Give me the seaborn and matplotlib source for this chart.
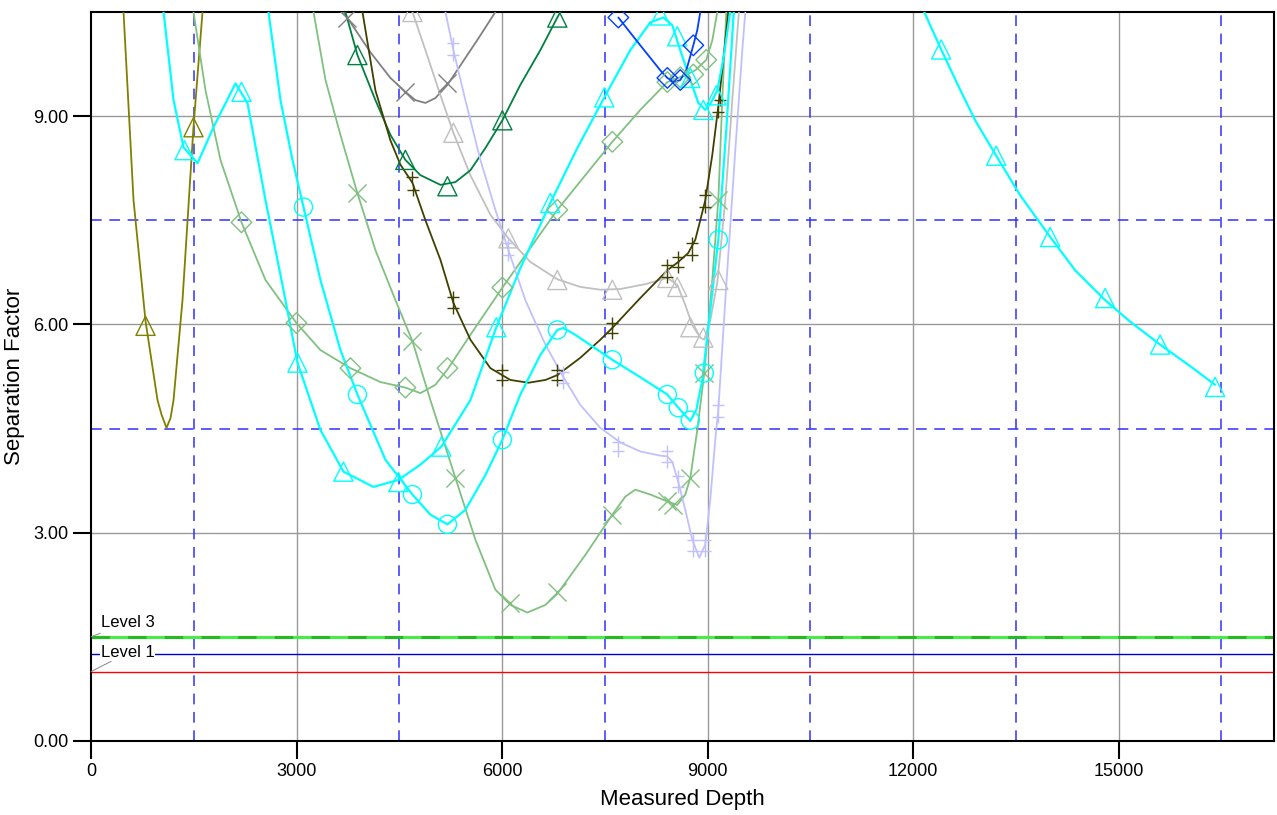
import matplotlib
matplotlib.use('Agg')
import matplotlib.pyplot as plt
from matplotlib.ticker import FormatStrFormatter
import seaborn as sns

# ---- data (measured depth, separation factor) ----
# olive, triangles
olive_md = [430, 474, 620, 795, 970, 1029, 1101, 1160, 1204, 1335, 1495, 1627, 1656]
olive_sf = [10.81, 10.50, 7.79, 6.05, 4.91, 4.70, 4.51, 4.65, 4.91, 6.35, 8.84, 10.50, 10.81]
olive_mk_md = [795, 1495]
olive_mk_sf = [5.98, 8.84]

# cyan, triangles (wavy one from the left)
cyan_a_md = [1014, 1058, 1204, 1350, 1554, 1787, 2108, 2283, 2546, 2808, 3013, 3348, 3684,
             4122, 4486, 4807, 5114, 5537, 5916, 6266, 6704, 7098, 7492, 7871, 8163, 8353,
             8484, 8601, 8747, 8864, 8966, 9053, 9141, 9228, 9330, 9374]
cyan_a_sf = [10.96, 10.50, 9.23, 8.55, 8.32, 8.84, 9.47, 9.19, 7.79, 6.50, 5.45, 4.48, 3.88,
             3.66, 3.76, 3.98, 4.24, 4.91, 5.96, 6.81, 7.75, 8.54, 9.27, 9.95, 10.35, 10.42,
             10.31, 9.95, 9.52, 9.19, 9.09, 9.20, 9.37, 9.81, 10.50, 10.96]
cyan_a_mk_md = [1364, 2196, 3013, 3684, 4486, 5114, 5916, 6704, 7492, 8309, 8557, 8747, 8937, 9126]
cyan_a_mk_sf = [8.51, 9.35, 5.45, 3.88, 3.73, 4.24, 5.96, 7.75, 9.27, 10.45, 10.15, 9.55, 9.09, 9.30]

# cyan, circles
cyan_b_md = [2546, 2590, 2765, 2940, 3101, 3348, 3640, 3888, 4297, 4691, 4953, 5202, 5464,
             5756, 6004, 6266, 6558, 6806, 6894, 7069, 7609, 8017, 8412, 8572, 8747, 8835,
             8922, 9039, 9156, 9272, 9374, 9418]
cyan_b_sf = [10.96, 10.50, 9.23, 8.37, 7.69, 6.64, 5.63, 4.99, 4.05, 3.55, 3.26, 3.12, 3.33,
             3.83, 4.34, 4.99, 5.56, 5.92, 5.95, 5.85, 5.49, 5.24, 4.99, 4.80, 4.61, 4.77,
             5.20, 6.21, 7.22, 8.80, 10.38, 10.96]
cyan_b_mk_md = [3101, 3888, 4691, 5202, 6004, 6806, 7609, 8412, 8572, 8747, 8951, 9156]
cyan_b_mk_sf = [7.69, 4.99, 3.55, 3.12, 4.34, 5.92, 5.49, 4.99, 4.80, 4.62, 5.30, 7.22]

# sea green, diamonds
green_d_md = [1452, 1495, 1671, 1889, 2196, 2546, 2998, 3348, 3786, 4224, 4588, 4807, 5026,
              5202, 5537, 6004, 6412, 6806, 7215, 7609, 8017, 8412, 8674, 8820, 8980, 9068,
              9141, 9170]
green_d_sf = [10.96, 10.50, 9.37, 8.37, 7.47, 6.64, 6.02, 5.63, 5.37, 5.17, 5.09, 5.01, 5.13,
              5.35, 5.85, 6.53, 7.10, 7.65, 8.15, 8.63, 9.09, 9.49, 9.59, 9.66, 9.81, 10.09,
              10.50, 10.96]
green_d_mk_md = [2196, 2998, 3786, 4588, 5202, 6004, 6806, 7609, 8412, 8601, 8791, 8980]
green_d_mk_sf = [7.47, 6.02, 5.37, 5.09, 5.37, 6.53, 7.65, 8.63, 9.49, 9.56, 9.60, 9.81]

# sea green, crosses
green_x_md = [3203, 3247, 3422, 3640, 3888, 4151, 4443, 4691, 4953, 5318, 5610, 5902, 6121,
              6369, 6632, 6806, 7215, 7609, 7799, 7945, 8163, 8412, 8557, 8674, 8747, 8849,
              8951, 9068, 9156, 9214, 9272, 9301]
green_x_sf = [10.96, 10.50, 9.52, 8.73, 7.89, 7.07, 6.35, 5.76, 4.91, 3.79, 2.90, 2.18, 1.96,
              1.85, 1.96, 2.12, 2.68, 3.26, 3.52, 3.62, 3.55, 3.45, 3.40, 3.55, 3.79, 4.48,
              5.30, 6.64, 7.79, 9.23, 10.50, 10.96]
green_x_mk_md = [3888, 4691, 5318, 6121, 6806, 7609, 8412, 8499, 8747, 8951, 9156]
green_x_mk_sf = [7.89, 5.76, 3.79, 1.99, 2.14, 3.26, 3.45, 3.40, 3.79, 5.30, 7.79]

# dark olive, plus
dkolive_md = [3932, 3962, 4151, 4370, 4516, 4691, 4881, 5100, 5289, 5537, 5829, 6121, 6384,
              6632, 6806, 7142, 7434, 7609, 8017, 8412, 8572, 8718, 8820, 8893, 8966, 9068,
              9156, 9243, 9301, 9330]
dkolive_sf = [10.96, 10.50, 9.37, 8.65, 8.30, 8.04, 7.50, 6.93, 6.31, 5.78, 5.37, 5.20, 5.16,
              5.20, 5.27, 5.52, 5.78, 5.95, 6.38, 6.78, 6.90, 7.03, 7.22, 7.50, 7.79, 8.44,
              9.14, 9.95, 10.50, 10.96]
dkolive_mk_md = [4691, 4706, 5289, 5289, 6004, 6004, 6806, 6806, 7609, 7609, 8412, 8412,
                 8572, 8572, 8776, 8776, 8966, 8966, 9185, 9156]
dkolive_mk_sf = [8.12, 7.93, 6.40, 6.24, 5.35, 5.20, 5.35, 5.20, 6.02, 5.88, 6.86, 6.68,
                 6.97, 6.83, 7.17, 7.00, 7.86, 7.69, 9.23, 9.06]

# dark green, triangles
dkgreen_md = [3611, 3713, 3888, 4151, 4370, 4588, 4807, 5100, 5318, 5537, 5756, 6004, 6266,
              6558, 6806, 6850, 6923]
dkgreen_sf = [10.96, 10.50, 9.88, 9.23, 8.73, 8.37, 8.15, 8.01, 8.05, 8.22, 8.54, 8.94, 9.45,
              9.95, 10.42, 10.50, 10.74]
dkgreen_mk_md = [3888, 4588, 5202, 6004, 6806]
dkgreen_mk_sf = [9.88, 8.37, 7.99, 8.94, 10.42]

# grey, crosses
grey_md = [3567, 3684, 3786, 4078, 4370, 4588, 4735, 4881, 5026, 5202, 5391, 5654, 5902, 5975]
grey_sf = [10.74, 10.50, 10.35, 9.92, 9.55, 9.35, 9.23, 9.19, 9.26, 9.45, 9.73, 10.12, 10.50, 10.63]
grey_mk_md = [3742, 4588, 5202]
grey_mk_sf = [10.41, 9.35, 9.48]

# silver, triangles
silver_md = [4662, 4691, 4881, 5100, 5289, 5537, 5829, 6092, 6412, 6806, 7142, 7434, 7726,
             8090, 8412, 8557, 8674, 8776, 8893, 8951, 9039, 9141, 9258, 9360, 9447, 9476]
silver_sf = [10.74, 10.50, 9.95, 9.30, 8.76, 8.15, 7.58, 7.24, 6.90, 6.65, 6.54, 6.50, 6.51,
             6.58, 6.67, 6.57, 6.28, 5.99, 5.81, 5.78, 6.06, 6.60, 7.79, 9.23, 10.38, 10.74]
silver_mk_md = [4691, 5289, 6092, 6806, 7609, 8412, 8557, 8747, 8937, 9156]
silver_mk_sf = [10.50, 8.76, 7.24, 6.64, 6.50, 6.67, 6.54, 5.96, 5.81, 6.64]

# lavender, plus
lavender_md = [5143, 5173, 5289, 5464, 5683, 5902, 6092, 6339, 6631, 6894, 7142, 7434, 7726,
               8017, 8309, 8412, 8484, 8572, 8674, 8776, 8878, 8966, 9039, 9112, 9156, 9258,
               9404, 9506, 9550, 9579]
lavender_sf = [10.74, 10.50, 9.95, 9.23, 8.37, 7.65, 7.07, 6.35, 5.71, 5.24, 4.84, 4.51, 4.30,
               4.17, 4.11, 4.10, 4.02, 3.73, 3.33, 2.90, 2.64, 2.83, 3.48, 4.34, 4.77, 6.35,
               8.51, 9.95, 10.50, 10.74]
lavender_mk_md = [5289, 5289, 6092, 6092, 6894, 6894, 7697, 7697, 8412, 8412, 8572, 8572,
                  8791, 8791, 8966, 8966, 9156, 9156]
lavender_mk_sf = [10.05, 9.88, 7.17, 7.00, 5.32, 5.16, 4.31, 4.17, 4.17, 4.02, 3.81, 3.66,
                  2.90, 2.73, 2.90, 2.73, 4.84, 4.67]

# blue, diamonds
blue_md = [7697, 8017, 8309, 8412, 8514, 8601, 8689, 8791, 8849, 8893, 8922]
blue_sf = [10.42, 10.02, 9.66, 9.55, 9.49, 9.52, 9.66, 10.02, 10.24, 10.50, 10.70]
blue_mk_md = [7697, 8412, 8601, 8791]
blue_mk_sf = [10.42, 9.55, 9.52, 10.02]

# cyan, triangles (far right)
cyan_c_md = [12103, 12161, 12409, 12686, 12905, 13212, 13562, 14000, 14364, 14802, 15167,
             15604, 16042, 16407]
cyan_c_sf = [10.67, 10.50, 9.96, 9.38, 8.94, 8.43, 7.86, 7.26, 6.78, 6.35, 6.04, 5.71, 5.40, 5.13]
cyan_c_mk_md = [12409, 13212, 14000, 14802, 15604, 16407]
cyan_c_mk_sf = [9.96, 8.43, 7.26, 6.38, 5.71, 5.10]

# reference levels and grid
level_values = [1.5, 1.25, 1.0]
major_x = [0, 3000, 6000, 9000, 12000, 15000]
major_y = [0, 3, 6, 9]
dashed_x = [1500, 4500, 7500, 10500, 13500, 16500]
dashed_y = [4.5, 7.5]

SERIES = [
    # (line x, line y, marker x, marker y, colour, marker, size, line width)
    (olive_md, olive_sf, olive_mk_md, olive_mk_sf, '#808000', '^', 190, 1.3),
    (green_d_md, green_d_sf, green_d_mk_md, green_d_mk_sf, '#80c080', 'D', 110, 1.3),
    (green_x_md, green_x_sf, green_x_mk_md, green_x_mk_sf, '#80c080', 'x', 170, 1.3),
    (grey_md, grey_sf, grey_mk_md, grey_mk_sf, '#808080', 'x', 170, 1.3),
    (silver_md, silver_sf, silver_mk_md, silver_mk_sf, '#c0c0c0', '^', 190, 1.3),
    (dkgreen_md, dkgreen_sf, dkgreen_mk_md, dkgreen_mk_sf, '#008040', '^', 190, 1.3),
    (dkolive_md, dkolive_sf, dkolive_mk_md, dkolive_mk_sf, '#404000', '+', 80, 1.3),
    (lavender_md, lavender_sf, lavender_mk_md, lavender_mk_sf, '#c0c0ff', '+', 80, 1.3),
    (cyan_a_md, cyan_a_sf, cyan_a_mk_md, cyan_a_mk_sf, '#00ffff', '^', 190, 1.6),
    (cyan_b_md, cyan_b_sf, cyan_b_mk_md, cyan_b_mk_sf, '#00ffff', 'o', 170, 1.6),
    (blue_md, blue_sf, blue_mk_md, blue_mk_sf, '#0040ff', 'D', 110, 1.3),
    (cyan_c_md, cyan_c_sf, cyan_c_mk_md, cyan_c_mk_sf, '#00ffff', '^', 190, 1.6),
]


def draw_grid(ax):
    """Grey major grid plus the blue dashed half-step grid."""
    for x in major_x[1:]:
        ax.axvline(x, color='#999999', lw=1.0, zorder=1)
    for y in major_y[1:]:
        ax.axhline(y, color='#999999', lw=1.0, zorder=1)
    for x in dashed_x:
        ax.axvline(x, color='#3030ff', lw=1.1, ls=(0, (7, 5)), zorder=1)
    for y in dashed_y:
        ax.axhline(y, color='#3030ff', lw=1.1, ls=(0, (7, 5)), zorder=1)


def draw_levels(ax):
    """Separation factor limit lines and their labels."""
    ax.axhline(level_values[0], color='#44ee44', lw=2.2, zorder=2)
    ax.axhline(level_values[0], color='#22bb22', lw=2.2, ls=(0, (6, 6)), zorder=2)
    ax.axhline(level_values[1], color='#0000cc', lw=1.0, zorder=2)
    ax.axhline(level_values[2], color='#ff0000', lw=1.0, zorder=2)
    ax.annotate('Level 3', xy=(0, level_values[0]), xytext=(7, 5), textcoords='offset points',
                fontsize=12, va='bottom', ha='left', color='black',
                arrowprops=dict(arrowstyle='-', color='#888888', lw=0.7, shrinkA=0, shrinkB=0))
    ax.annotate('Level 1', xy=(0, level_values[2]), xytext=(7, 8), textcoords='offset points',
                fontsize=12, va='bottom', ha='left', color='black',
                bbox=dict(boxstyle='square,pad=0.05', fc='white', ec='none'),
                arrowprops=dict(arrowstyle='-', color='#888888', lw=0.7, shrinkA=0, shrinkB=0))


def plot_separation():
    sns.set_style('white')
    plt.rcParams['font.family'] = ['Liberation Sans', 'DejaVu Sans']

    fig = plt.figure(figsize=(12.77, 8.15), dpi=100)
    ax = fig.add_axes([0.0713, 0.0908, 0.9265, 0.8945])

    draw_grid(ax)
    draw_levels(ax)

    for md, sf, mk_md, mk_sf, color, marker, size, lw in SERIES:
        sns.lineplot(x=md, y=sf, sort=False, estimator=None, color=color, lw=lw, ax=ax, zorder=3)
        if marker in ('x', '+'):
            sns.scatterplot(x=mk_md, y=mk_sf, marker=marker, s=size, color=color,
                            linewidth=1.0, ax=ax, zorder=4)
        else:
            sns.scatterplot(x=mk_md, y=mk_sf, marker=marker, s=size, facecolor='none',
                            edgecolor=color, linewidth=1.0, ax=ax, zorder=4)

    ax.set_xlim(0, 17270)
    ax.set_ylim(0, 10.5)
    ax.set_xticks(major_x)
    ax.set_yticks(major_y)
    ax.yaxis.set_major_formatter(FormatStrFormatter('%.2f'))
    ax.tick_params(bottom=True, left=True, direction='out', length=13, width=1.5,
                   labelsize=13, color='black', labelcolor='black', pad=3)
    for side in ['left', 'bottom', 'top', 'right']:
        ax.spines[side].set_color('black')
        ax.spines[side].set_linewidth(1.5)

    ax.set_xlabel('Measured Depth', fontsize=16, labelpad=6, color='black')
    ax.set_ylabel('Separation Factor', fontsize=16, labelpad=6, color='black')

    fig.savefig('out.png', dpi=100)
    plt.close(fig)


if __name__ == '__main__':
    plot_separation()
